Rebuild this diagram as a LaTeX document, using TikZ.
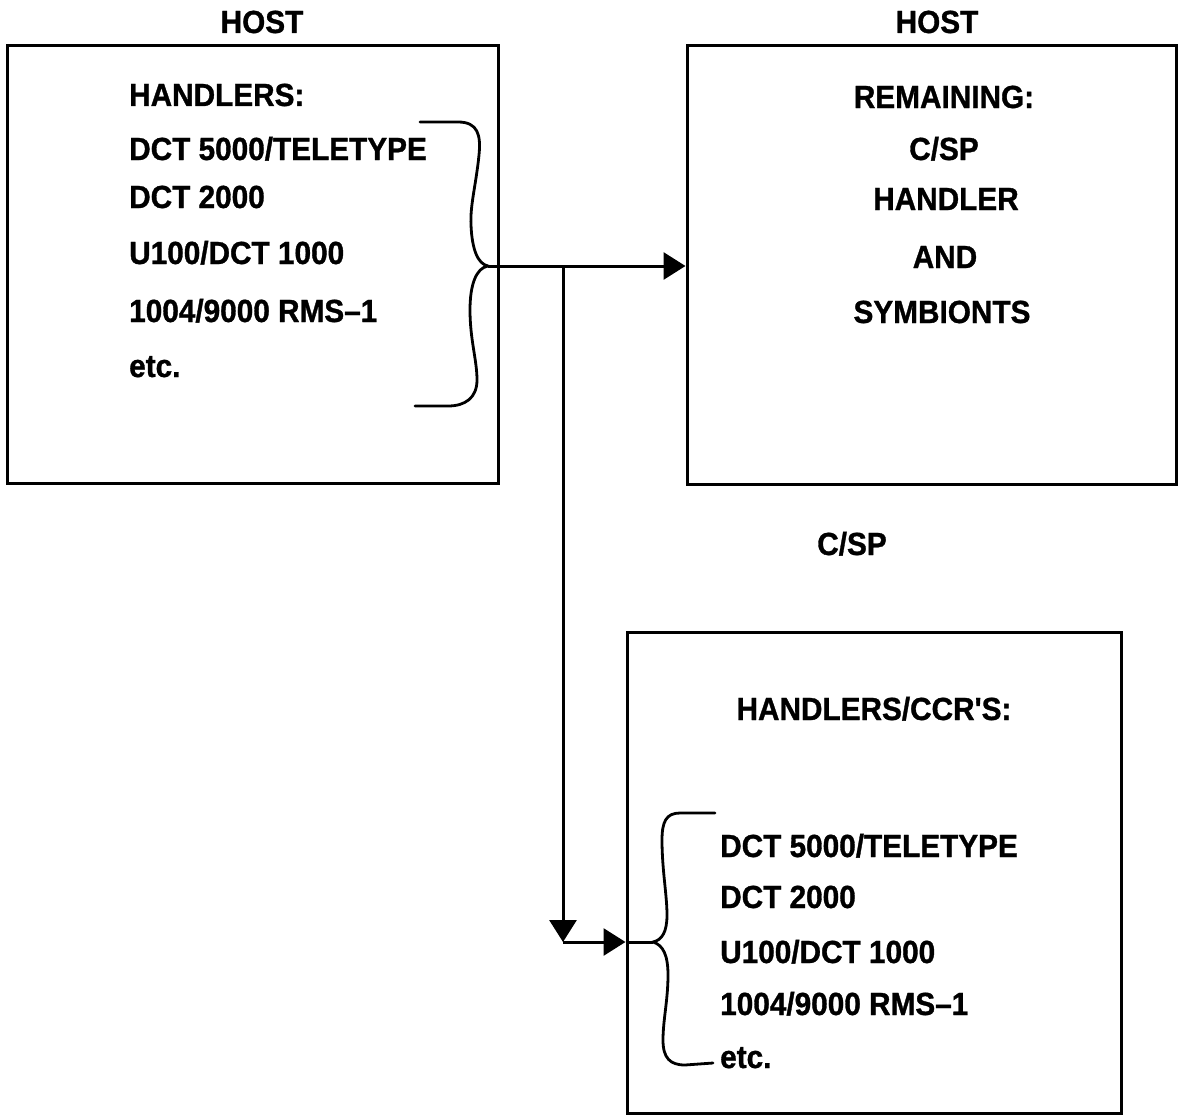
\documentclass[tikz,border=0pt]{standalone}
\usepackage{fontspec}
\usetikzlibrary{arrows.meta}
\newfontfamily\labfont[FakeStretch=0.93, FakeBold=1, Ligatures=NoCommon]{Liberation Sans Bold}
\begin{document}
\begin{tikzpicture}[x=1pt,y=-1pt,
  lbl/.style={font=\labfont\fontsize{32}{38}\selectfont, inner sep=0pt},
  itemtxt/.style={lbl, anchor=base west},
  ctrtxt/.style={lbl, anchor=base},
  boxframe/.style={draw, line width=3pt, rectangle, inner sep=0pt},
  wire/.style={line width=3pt},
  bracestyle/.style={line width=2.8pt, line cap=round},
  tip/.style={-{Triangle[length=22pt,width=27pt]}}]
\useasboundingbox (0,0) rectangle (1178,1116);
\fill[white] (0,0) rectangle (1178,1116);

% boxes
\node[boxframe, minimum width=491pt, minimum height=437pt] (box1) at (252.5,264.5) {};
\node[boxframe, minimum width=489pt, minimum height=438pt] (box2) at (931.5,265) {};
\node[boxframe, minimum width=494pt, minimum height=481pt] (box3) at (874,872.5) {};

% titles
\node[ctrtxt] (host1) at (262,33) {HOST};
\node[ctrtxt] (host2) at (937,33) {HOST};
\node[ctrtxt] (csp) at (852,555) {C/SP};

% box 1 text
\node[itemtxt] (h1a) at (129,106) {HANDLERS:};
\node[itemtxt] (h1b) at (129,160) {DCT 5000/TELETYPE};
\node[itemtxt] (h1c) at (129,208) {DCT 2000};
\node[itemtxt] (h1d) at (129,264) {U100/DCT 1000};
\node[itemtxt] (h1e) at (129,322) {1004/9000 RMS–1};
\node[itemtxt] (h1f) at (129,377) {etc.};

% box 2 text
\node[ctrtxt] (r1) at (944,108) {REMAINING:};
\node[ctrtxt] (r2) at (944,160) {C/SP};
\node[ctrtxt] (r3) at (946,210) {HANDLER};
\node[ctrtxt] (r4) at (945,268) {AND};
\node[ctrtxt] (r5) at (942,323) {SYMBIONTS};

% box 3 text
\node[ctrtxt] (c0) at (874,720) {HANDLERS/CCR'S:};
\node[itemtxt] (c1) at (720,857) {DCT 5000/TELETYPE};
\node[itemtxt] (c2) at (720,908) {DCT 2000};
\node[itemtxt] (c3) at (720,963) {U100/DCT 1000};
\node[itemtxt] (c4) at (720,1015) {1004/9000 RMS–1};
\node[itemtxt] (c5) at (720,1068) {etc.};

% brace 1
\coordinate (b1tip) at (488,266);
\draw[bracestyle] (420,122) -- (458,122)
  .. controls (478,122) and (481,135) .. (479,155)
  .. controls (476,185) and (470,205) .. (471,225)
  .. controls (472,250) and (478,264) .. (b1tip)
  .. controls (476,268) and (470,285) .. (470,310)
  .. controls (470,340) and (477,360) .. (477,380)
  .. controls (477,398) and (465,406) .. (448,406) -- (415,406);

% brace 3
\coordinate (b3tip) at (653,942);
\draw[bracestyle] (715,813) -- (680,813)
  .. controls (666,813) and (662,822) .. (662,840)
  .. controls (662,870) and (667,895) .. (667,915)
  .. controls (667,932) and (662,940) .. (b3tip)
  .. controls (663,945) and (668,955) .. (668,975)
  .. controls (668,1000) and (663,1020) .. (663,1040)
  .. controls (663,1058) and (670,1065) .. (685,1065) -- (713,1063);

% connectors
\coordinate (junc) at (563,266);
\coordinate (corner) at (563,942);
\draw[wire, tip] (b1tip) -- (box2.west |- b1tip);
\draw[wire, tip] (junc) -- (corner);
\draw[wire, tip] (corner) -- (box3.west |- corner);
\draw[wire] (box3.west |- corner) -- (b3tip);
\end{tikzpicture}
\end{document}
